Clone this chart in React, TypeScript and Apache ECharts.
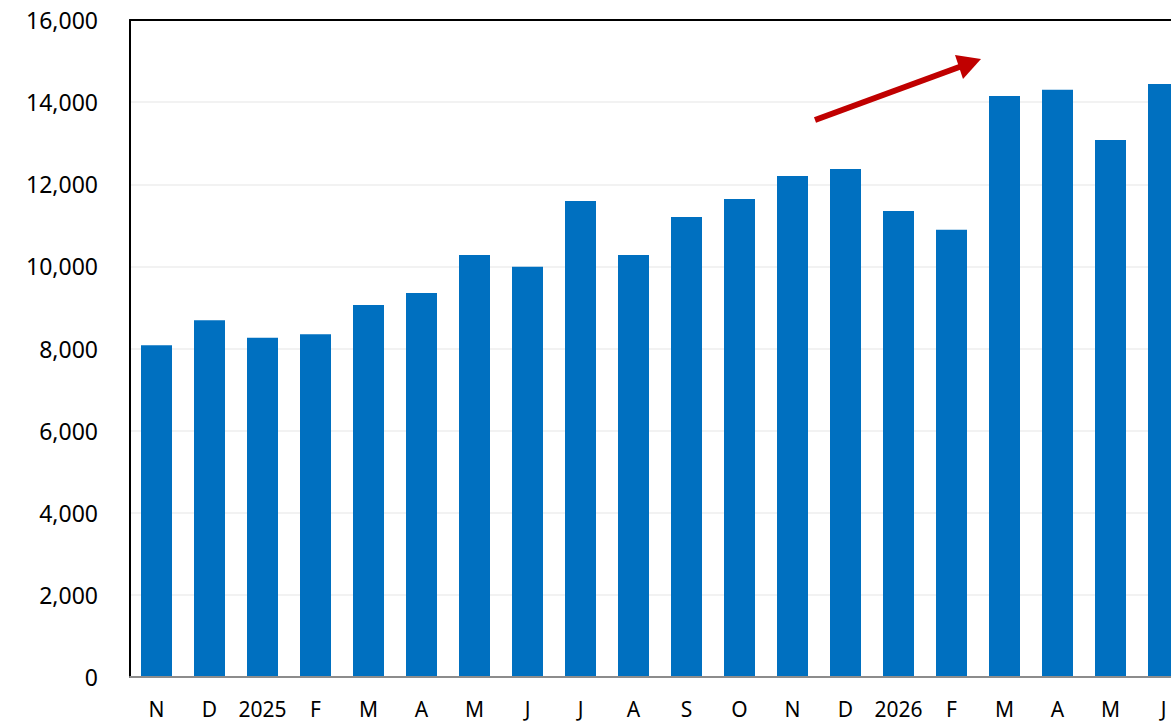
import React, { useEffect, useRef } from "react";
import * as echarts from "echarts";

const categories = ["N", "D", "2025", "F", "M", "A", "M", "J", "J", "A", "S", "O", "N", "D", "2026", "F", "M", "A", "M", "J"];
const values = [8080, 8690, 8260, 8350, 9060, 9350, 10280, 9990, 11590, 10280, 11200, 11640, 12200, 12370, 11350, 10890, 14150, 14300, 13080, 14440];
const yTicks = { min: 0, max: 16000, interval: 2000 };

export default function App() {
  const ref = useRef<HTMLDivElement>(null);
  useEffect(() => {
    if (!ref.current) return;
    const chart = echarts.init(ref.current, null, { renderer: "svg" });
    chart.setOption({
      animation: false,
      backgroundColor: "#ffffff",
      textStyle: { fontFamily: "Noto Sans" },
      grid: {
        left: 130,
        right: 0,
        top: 20,
        bottom: 44,
        show: false,
      },
      xAxis: [
        {
          type: "category",
          data: categories,
          axisLine: { show: true, lineStyle: { color: "#8c8c8c", width: 2 } },
          axisTick: { show: false },
          axisLabel: { color: "#000000", fontSize: 21, margin: 21, interval: 0, fontFamily: "Noto Sans" },
          z: 10,
        },
        {
          type: "category",
          data: categories,
          position: "top",
          axisLine: { show: true, lineStyle: { color: "#000000", width: 2 } },
          axisTick: { show: false },
          axisLabel: { show: false },
          splitLine: { show: false },
          z: 10,
        },
      ],
      yAxis: {
        type: "value",
        min: yTicks.min,
        max: yTicks.max,
        interval: yTicks.interval,
        axisLine: { show: true, lineStyle: { color: "#000000", width: 2 } },
        axisTick: { show: false },
        splitLine: { show: true, lineStyle: { color: "#eeeeee", width: 1.5 } },
        axisLabel: {
          color: "#000000",
          fontSize: 23,
          margin: 32,
          fontFamily: "Noto Sans",
          formatter: (v: number) => v.toLocaleString("en-US"),
        },
      },
      series: [
        {
          type: "bar",
          data: values,
          barWidth: 31,
          itemStyle: { color: "#0070C0" },
        },
      ],
      graphic: [
        {
          type: "line",
          shape: { x1: 815, y1: 120, x2: 962, y2: 66 },
          style: { stroke: "#C00000", lineWidth: 6 },
          z: 100,
        },
        {
          type: "polygon",
          shape: { points: [[981, 59], [955, 55], [963, 79]] },
          style: { fill: "#C00000" },
          z: 100,
        },
      ],
    });
    return () => chart.dispose();
  }, []);
  return (
    <div style={{ position: "fixed", left: 0, top: 0, width: 1171, height: 721, overflow: "hidden" }}>
      <div ref={ref} style={{ position: "absolute", left: 0, top: 0, width: 1190, height: 721 }} />
    </div>
  );
}
